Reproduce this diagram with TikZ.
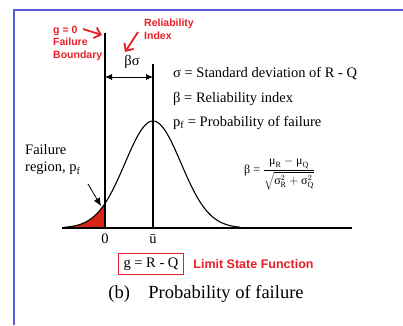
\documentclass[tikz,border=0pt]{standalone}
\usepackage{fontspec}
\setmainfont{Liberation Serif}
\newfontfamily\annotfont{Liberation Sans}
\usetikzlibrary{arrows.meta,positioning}
\definecolor{annotred}{RGB}{232,30,40}
\definecolor{frameblue}{RGB}{85,90,215}
\definecolor{tailred}{RGB}{215,35,25}

\begin{document}
\begin{tikzpicture}[
x=1pt,y=-1pt,
declare function={bell(\x)=228-107*exp(-((\x-153)*(\x-153))/1568);},
txt/.style={inner sep=0pt,font=\fontsize{14.5}{17}\selectfont},
annot/.style={inner sep=0pt,text=annotred,align=left,font=\annotfont\bfseries\fontsize{10.5}{12.5}\selectfont},
arrow/.style={<->,>={Latex[length=7pt,width=6pt]},thick},
pointer/.style={->,>={Latex[length=8pt,width=7pt]},thick},
redarrow/.style={->,>={Straight Barb[length=6pt,width=11pt]},annotred,line width=1.8pt},
axisline/.style={line width=1.1pt}
]
\useasboundingbox (0,0) rectangle (403,325);

% frame
\draw[frameblue,line width=2pt] (13.5,325) |- (403,9.5);

% axis and the two verticals
\coordinate (axl) at (62,228);
\coordinate (axr) at (352,228);
\coordinate (zero) at (105,228);
\coordinate (mean) at (153,228);
\coordinate (bndtop) at (105,33);
\coordinate (meantop) at (153,64);

\fill[tailred] (62,228) -- plot[domain=62:105,samples=40] (\x,{bell(\x)}) -- (zero) -- cycle;
\draw[axisline] (axl) -- (axr);
\draw[line width=1.1pt] plot[domain=64:240,samples=120,smooth] (\x,{bell(\x)});
\draw[axisline] (zero) -- (bndtop);
\draw[axisline] (mean) -- (meantop);

\node[txt,below=6pt of zero] (zerolbl) {0};
\node[txt,below=6pt of mean] (meanlbl) {ū};

% beta sigma
\coordinate (bsl) at (105,77);
\coordinate (bsr) at (153,77);
\draw[arrow] (bsl) -- (bsr);
\node[txt] (bslbl) at (132,62) {βσ};

% legend
\node[txt,anchor=west] (sigdef) at (173,74) {σ = Standard deviation of R - Q};
\node[txt,anchor=west] (betadef) at (173,99) {β = Reliability index};
\node[txt,anchor=west] (pfdef) at (173,123) {p\textsubscript{f} = Probability of failure};

\node[inner sep=0pt,anchor=west,font=\fontsize{12}{14}\selectfont] (formula) at (244,174)
{β = $\displaystyle\frac{\mbox{μ}_{\mathrm{R}}-\mbox{μ}_{\mathrm{Q}}}{\sqrt{\mbox{σ}_{\mathrm{R}}^2+\mbox{σ}_{\mathrm{Q}}^2}}$};

% failure region
\node[txt,align=left,anchor=west] (failtxt) at (25,160) {Failure\\region, p\textsubscript{f}};
\coordinate (tailpt) at (101,206);
\coordinate (failtail) at (88,184);
\draw[pointer] (failtail) -- (tailpt);

% limit state function
\node[txt,draw=annotred,line width=1.5pt,inner xsep=5pt,inner ysep=4pt] (gfun) at (151,264) {g = R - Q};
\node[annot,font=\annotfont\bfseries\fontsize{12.5}{14}\selectfont,right=9pt of gfun] (lsf) {Limit State Function};

\node[inner sep=0pt,font=\fontsize{18.5}{21}\selectfont] (caption) at (206,294) {(b)\hspace{1em}Probability of failure};

% red notes
\node[annot,anchor=west] (gzero) at (53,43) {g = 0\\Failure\\Boundary};
\node[annot,anchor=west] (relidx) at (144,29) {Reliability\\Index};
\coordinate (gtail) at (83,29);
\coordinate (gtip) at (102,35);
\coordinate (rtail) at (138,32);
\coordinate (rtip) at (125,52);
\draw[redarrow] (gtail) -- (gtip);
\draw[redarrow] (rtail) -- (rtip);

\end{tikzpicture}
\end{document}
